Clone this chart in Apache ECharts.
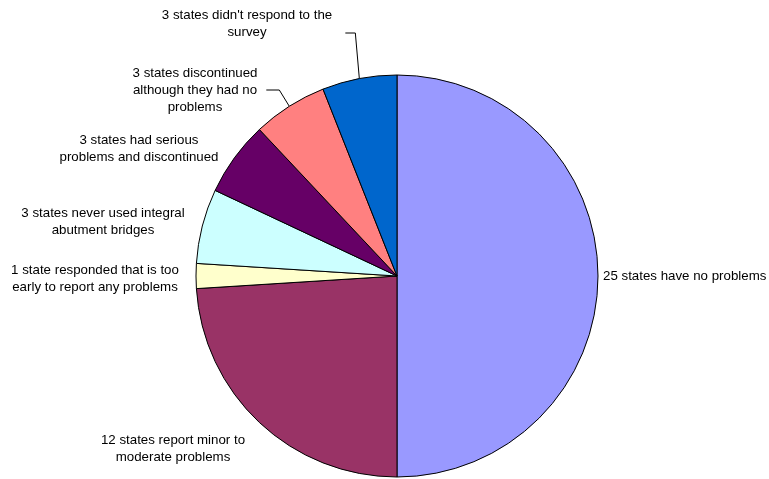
<!DOCTYPE html>
<html>
<head>
<meta charset="utf-8">
<script src="https://cdn.jsdelivr.net/npm/echarts@6/dist/echarts.min.js"></script>
<style>
  html, body { margin: 0; padding: 0; background: #fff; }
  #main { width: 769px; height: 479px; }
</style>
</head>
<body>
<div id="main"></div>
<script>
// survey answers, clockwise from 12 o'clock
var categories = [
  '25 states have no problems',
  '12 states report minor to\nmoderate problems',
  '1 state responded that is too\nearly to report any problems',
  '3 states never used integral\nabutment bridges',
  '3 states had serious\nproblems and discontinued',
  '3 states discontinued\nalthough they had no\nproblems',
  "3 states didn't respond to the\nsurvey"
];
var values = [25, 12, 1, 3, 3, 3, 3];
var colors = ['#9999FF', '#993366', '#FFFFCC', '#CCFFFF', '#660066', '#FF8080', '#0066CC'];

var cx = 397, cy = 276, R = 201;

// where each label sits (Excel had them placed by hand)
var labelPos = [
  {x: 603, y: 276, align: 'left'},
  {x: 173, y: 449, align: 'center'},
  {x: 95, y: 279, align: 'center'},
  {x: 103, y: 222, align: 'center'},
  {x: 139, y: 149, align: 'center'},
  {x: 195, y: 90, align: 'center'},
  {x: 247, y: 24, align: 'center'}
];
// leader lines: elbow offset from the slice edge, and the y they run at
var leaders = [null, null, null, null, null,
  {dx: 10, y: 90, len: 13},
  {dx: 4, y: 33, len: 10}
];

var total = 0;
values.forEach(function (v) { total += v; });
function edgePoint(i) {
  var cum = 0;
  for (var k = 0; k < i; k++) cum += values[k];
  var a = (cum + values[i] / 2) / total * Math.PI * 2;
  return [cx + R * Math.sin(a), cy - R * Math.cos(a)];
}

var chart = echarts.init(document.getElementById('main'));
var pieData = [];
for (var i = 0; i < values.length; i++) {
  pieData.push({
    name: categories[i],
    value: values[i],
    itemStyle: {color: colors[i]},
    labelLine: {show: !!leaders[i]}
  });
}

var option = {
  animation: false,
  series: [{
    type: 'pie',
    center: [cx, cy],
    radius: R,
    startAngle: 90,
    clockwise: true,
    avoidLabelOverlap: false,
    itemStyle: {borderColor: '#000', borderWidth: 1},
    emphasis: {disabled: true},
    label: {
      show: true,
      position: 'outside',
      color: '#000',
      fontFamily: 'Liberation Sans, Arial, sans-serif',
      fontSize: 13.3,
      lineHeight: 17,
      formatter: '{b}'
    },
    labelLine: {
      show: false,
      length: 20,
      length2: 10,
      lineStyle: {color: '#000', width: 1}
    },
    labelLayout: function (p) {
      var i = p.dataIndex;
      var lp = labelPos[i];
      var res = {x: lp.x, y: lp.y, align: lp.align, verticalAlign: 'middle'};
      var ld = leaders[i];
      if (ld) {
        var e = edgePoint(i);
        var elbow = [e[0] - ld.dx, ld.y];
        res.labelLinePoints = [e, elbow, [elbow[0] - ld.len, ld.y]];
      }
      return res;
    },
    data: pieData
  }]
};
chart.setOption(option);
</script>
</body>
</html>
